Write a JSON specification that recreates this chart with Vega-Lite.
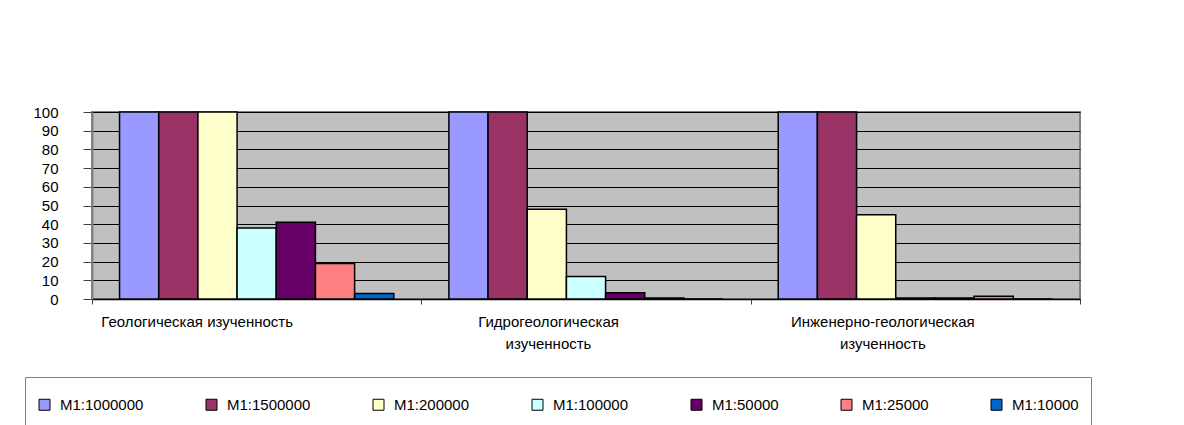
{
  "$schema": "https://vega.github.io/schema/vega-lite/v6.json",
  "width": 988,
  "height": 187,
  "autosize": {"type": "none"},
  "padding": {"left": 92, "top": 112, "right": 104, "bottom": 126},
  "background": "white",
  "config": {
    "font": "Liberation Sans",
    "view": {"fill": "#C0C0C0", "stroke": "#808080", "strokeWidth": 2}
  },
  "data": {
    "values": [
      {"cat": "Геологическая изученность", "scale": "M1:1000000", "v": 100},
      {"cat": "Геологическая изученность", "scale": "M1:1500000", "v": 100},
      {"cat": "Геологическая изученность", "scale": "M1:200000", "v": 100},
      {"cat": "Геологическая изученность", "scale": "M1:100000", "v": 38},
      {"cat": "Геологическая изученность", "scale": "M1:50000", "v": 41},
      {"cat": "Геологическая изученность", "scale": "M1:25000", "v": 19},
      {"cat": "Геологическая изученность", "scale": "M1:10000", "v": 3},
      {"cat": "Гидрогеологическая изученность", "scale": "M1:1000000", "v": 100},
      {"cat": "Гидрогеологическая изученность", "scale": "M1:1500000", "v": 100},
      {"cat": "Гидрогеологическая изученность", "scale": "M1:200000", "v": 48},
      {"cat": "Гидрогеологическая изученность", "scale": "M1:100000", "v": 12},
      {"cat": "Гидрогеологическая изученность", "scale": "M1:50000", "v": 3.4},
      {"cat": "Гидрогеологическая изученность", "scale": "M1:25000", "v": 0.5},
      {"cat": "Гидрогеологическая изученность", "scale": "M1:10000", "v": 0},
      {"cat": "Инженерно-геологическая изученность", "scale": "M1:1000000", "v": 100},
      {"cat": "Инженерно-геологическая изученность", "scale": "M1:1500000", "v": 100},
      {"cat": "Инженерно-геологическая изученность", "scale": "M1:200000", "v": 45},
      {"cat": "Инженерно-геологическая изученность", "scale": "M1:100000", "v": 0.5},
      {"cat": "Инженерно-геологическая изученность", "scale": "M1:50000", "v": 0.5},
      {"cat": "Инженерно-геологическая изученность", "scale": "M1:25000", "v": 1.5},
      {"cat": "Инженерно-геологическая изученность", "scale": "M1:10000", "v": 0}
    ]
  },
  "mark": {"type": "bar", "stroke": "black", "strokeWidth": 1.5},
  "encoding": {
    "x": {
      "field": "cat",
      "type": "nominal",
      "sort": null,
      "scale": {"paddingInner": 0, "paddingOuter": 0},
      "axis": {
        "title": null,
        "labelAngle": 0,
        "domainColor": "black",
        "domainWidth": 1.5,
        "tickColor": "#404040",
        "tickSize": 5,
        "tickBand": "extent",
        "labelPadding": 10,
        "labelBaseline": "top",
        "labelFontSize": 15,
        "labelLineHeight": 22,
        "labelColor": "black",
        "labelOverlap": false,
        "labelBound": false,
        "labelFlush": false,
        "labelLimit": 0,
        "labelExpr": "!isValid(datum.value) ? '' : (datum.value == 'Геологическая изученность' ? datum.value : split(datum.value, ' '))",
        "labelOffset": {
          "condition": [
            {"test": "datum.value == 'Геологическая изученность'", "value": -60},
            {"test": "datum.value == 'Гидрогеологическая изученность'", "value": -38}
          ],
          "value": -33
        }
      }
    },
    "xOffset": {
      "field": "scale",
      "type": "nominal",
      "sort": ["M1:1000000", "M1:1500000", "M1:200000", "M1:100000", "M1:50000", "M1:25000", "M1:10000"],
      "scale": {"paddingInner": 0, "paddingOuter": 0.703}
    },
    "y": {
      "field": "v",
      "type": "quantitative",
      "scale": {"domain": [0, 100], "nice": false},
      "axis": {
        "title": null,
        "values": [0, 10, 20, 30, 40, 50, 60, 70, 80, 90, 100],
        "grid": true,
        "gridColor": "black",
        "gridWidth": 1,
        "domainColor": "#808080",
        "domainWidth": 2,
        "tickColor": "#404040",
        "tickSize": 9,
        "labelPadding": 25,
        "labelFontSize": 15,
        "labelColor": "black"
      }
    },
    "color": {
      "field": "scale",
      "type": "nominal",
      "sort": ["M1:1000000", "M1:1500000", "M1:200000", "M1:100000", "M1:50000", "M1:25000", "M1:10000"],
      "scale": {
        "domain": ["M1:1000000", "M1:1500000", "M1:200000", "M1:100000", "M1:50000", "M1:25000", "M1:10000"],
        "range": ["#9999FF", "#993366", "#FFFFCC", "#CCFFFF", "#660066", "#FF8080", "#0066CC"]
      },
      "legend": {
        "title": " ",
        "titleFontSize": 7,
        "titlePadding": 1,
        "orient": "none",
        "legendX": -67,
        "legendY": 265,
        "direction": "horizontal",
        "columns": 7,
        "columnPadding": 60,
        "symbolType": "square",
        "symbolSize": 121,
        "symbolStrokeColor": "black",
        "symbolStrokeWidth": 1,
        "labelFontSize": 15,
        "labelOffset": 8,
        "labelColor": "black",
        "labelLimit": 0,
        "strokeColor": "#808080",
        "fillColor": "white",
        "padding": 12
      }
    }
  }
}
